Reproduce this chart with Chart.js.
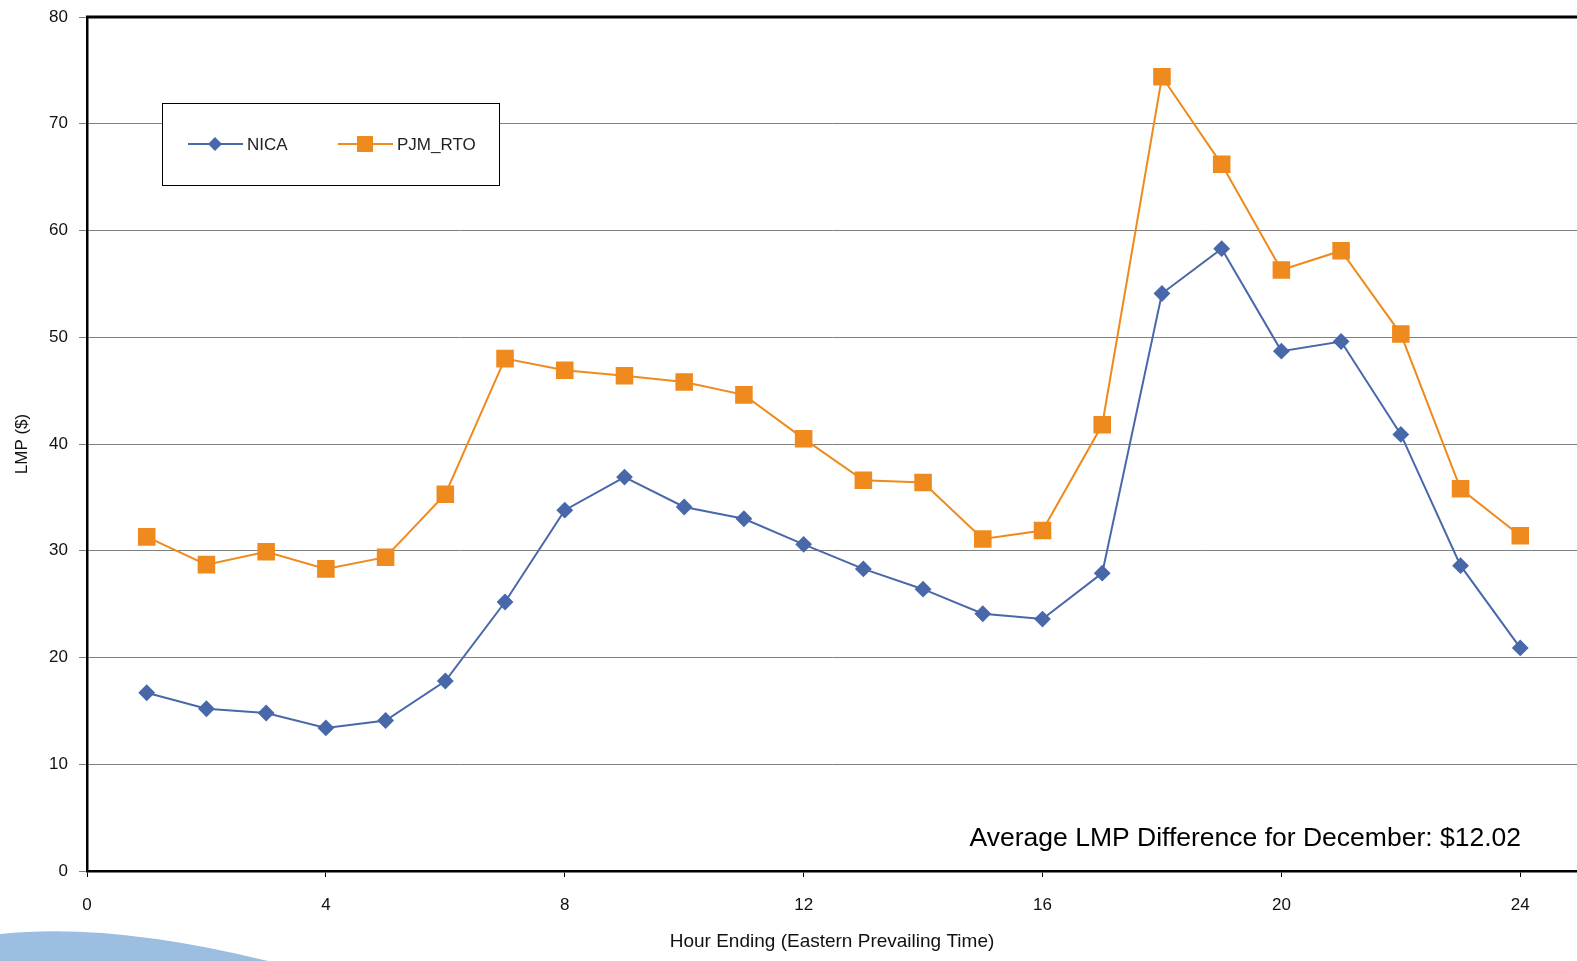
<!DOCTYPE html>
<html>
<head>
<meta charset="utf-8">
<script src="https://cdn.jsdelivr.net/npm/chart.js@4/dist/chart.umd.min.js"></script>
<style>
  html, body { margin: 0; padding: 0; background: #fff; overflow: hidden; }
  #wrap { position: relative; width: 1577px; height: 961px; }
  canvas { display: block; }
</style>
</head>
<body>
<div id="wrap"><canvas id="canvas" width="1577" height="961"></canvas></div>
<script>
var canvas = document.getElementById("canvas");
var ctx = canvas.getContext("2d");

// hour ending 1..24
var hours = [1,2,3,4,5,6,7,8,9,10,11,12,13,14,15,16,17,18,19,20,21,22,23,24];
var nica = [16.7,15.2,14.8,13.4,14.1,17.8,25.2,33.8,36.9,34.1,33.0,30.6,28.3,26.4,24.1,23.6,27.9,54.1,58.3,48.7,49.6,40.9,28.6,20.9];
var pjmRto = [31.3,28.7,29.9,28.3,29.4,35.3,48.0,46.9,46.4,45.8,44.6,40.5,36.6,36.4,31.1,31.9,41.8,74.4,66.2,56.3,58.1,50.3,35.8,31.4];
var seriesNames = ["NICA", "PJM_RTO"];
var note = "Average LMP Difference for December: $12.02";

var blue = "#4868AA";
var orange = "#EE8A1E";
var font = "'Liberation Sans', Arial, sans-serif";

function pts(vals){
    let out = [];
    for(let i = 0; i < hours.length; i++){ out.push({x: hours[i], y: vals[i]}); }
    return out;
}

var extras = {
    id: "extras",
    afterDraw(chart){
        let c = chart.ctx, a = chart.chartArea;
        c.save();
        // top frame line
        c.strokeStyle = "#000"; c.lineWidth = 3;
        c.beginPath(); c.moveTo(a.left - 1, a.top); c.lineTo(a.right, a.top); c.stroke();

        // legend box
        let bx = 162.5, by = 103.5, bw = 337, bh = 82;
        c.fillStyle = "#fff"; c.fillRect(bx, by, bw, bh);
        c.strokeStyle = "#000"; c.lineWidth = 1; c.strokeRect(bx, by, bw, bh);
        let items = [
            {name: seriesNames[0], color: blue, x: 188, marker: "diamond"},
            {name: seriesNames[1], color: orange, x: 338, marker: "square"}
        ];
        let ly = 144;
        items.forEach(function(it){
            c.strokeStyle = it.color; c.lineWidth = 2;
            c.beginPath(); c.moveTo(it.x, ly); c.lineTo(it.x + 55, ly); c.stroke();
            c.fillStyle = it.color;
            let mx = it.x + 27;
            if(it.marker == "diamond"){
                c.beginPath(); c.moveTo(mx, ly - 7); c.lineTo(mx + 7, ly); c.lineTo(mx, ly + 7); c.lineTo(mx - 7, ly); c.closePath(); c.fill();
            } else {
                c.fillRect(mx - 8, ly - 8, 16, 16);
            }
            c.fillStyle = "#222"; c.font = "17px " + font;
            c.textBaseline = "middle"; c.textAlign = "left";
            c.fillText(it.name, it.x + 59, ly + 1);
        });

        // note text
        c.fillStyle = "#000"; c.font = "26.5px " + font;
        c.textAlign = "right"; c.textBaseline = "alphabetic";
        c.fillText(note, 1521, 846);

        // decorative swoosh bottom-left
        c.fillStyle = "#9CBEE0";
        c.beginPath();
        c.moveTo(0, 934);
        c.quadraticCurveTo(110, 922, 268, 961);
        c.lineTo(0, 961);
        c.closePath(); c.fill();
        c.restore();
    }
};

function noPad(s){
    s.paddingTop = 0; s.paddingBottom = 0; s.paddingLeft = 0; s.paddingRight = 0;
}

var chart = new Chart(ctx, {
    type: "line",
    data: {
        datasets: [
            {
                label: seriesNames[0], data: pts(nica),
                borderColor: blue, backgroundColor: blue, borderWidth: 2,
                pointStyle: "rectRot", pointRadius: 7, pointHoverRadius: 7,
                tension: 0
            },
            {
                label: seriesNames[1], data: pts(pjmRto),
                borderColor: orange, backgroundColor: orange, borderWidth: 2,
                pointStyle: "rect", pointRadius: 11, pointHoverRadius: 11,
                tension: 0
            }
        ]
    },
    options: {
        responsive: false,
        animation: false,
        devicePixelRatio: 1,
        layout: { autoPadding: false, padding: { top: 17, right: 0, left: 0, bottom: 0 } },
        plugins: { legend: { display: false }, tooltip: { enabled: false } },
        scales: {
            x: {
                type: "linear", min: 0, max: 24.95,
                afterFit(s){ s.height = 90; noPad(s); },
                ticks: { stepSize: 4, includeBounds: false, color: "#111", padding: 18,
                         font: { family: font, size: 17 } },
                grid: { display: true, drawOnChartArea: false, drawTicks: true, tickLength: 6, tickColor: "#000" },
                border: { color: "#000", width: 2.5 },
                title: { display: true, text: "Hour Ending (Eastern Prevailing Time)", color: "#111",
                         font: { family: font, size: 19 }, padding: { top: 0, bottom: 8 } }
            },
            y: {
                min: 0, max: 80,
                afterFit(s){ s.width = 87; noPad(s); },
                ticks: { stepSize: 10, color: "#111", padding: 11, font: { family: font, size: 17 } },
                grid: { color: "#808080", lineWidth: 1, tickLength: 8, tickColor: "#808080" },
                border: { color: "#000", width: 2.5 },
                title: { display: true, text: "LMP ($)", color: "#111",
                         font: { family: font, size: 17 }, padding: { top: 12, bottom: 0 } }
            }
        }
    },
    plugins: [extras]
});
</script>
</body>
</html>
